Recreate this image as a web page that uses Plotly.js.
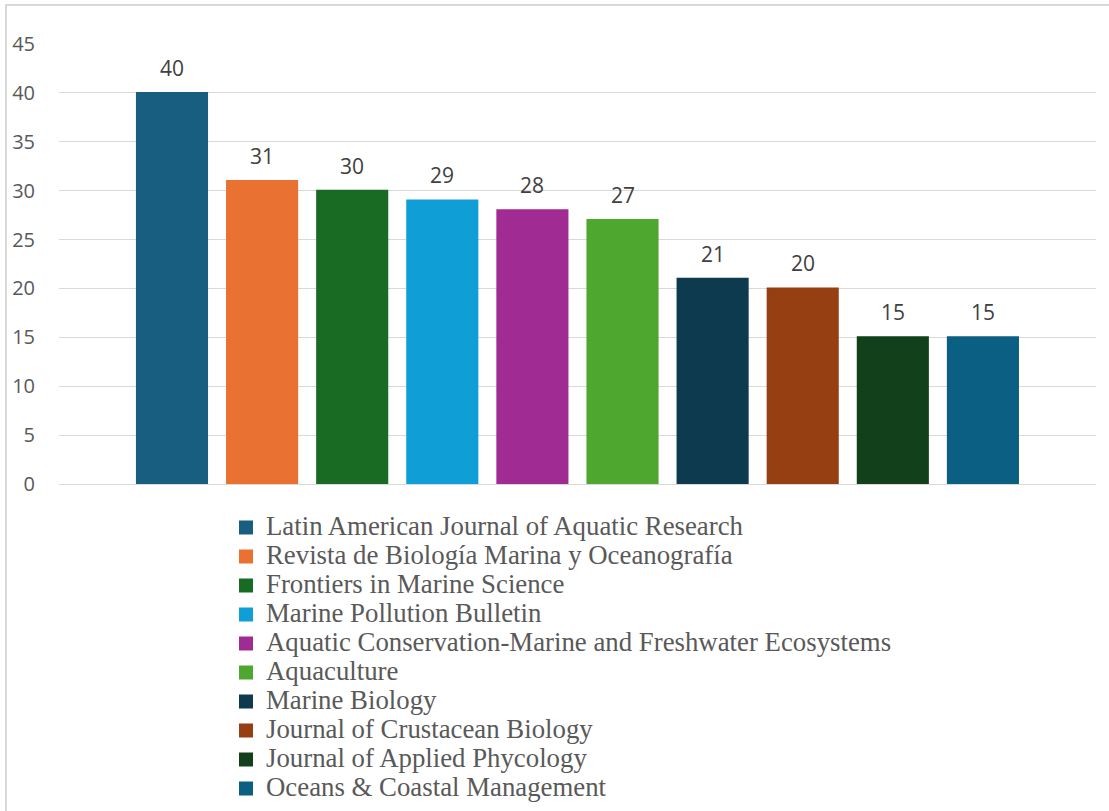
<!DOCTYPE html>
<html>
<head>
<meta charset="utf-8">
<script src="https://cdn.plot.ly/plotly-3.0.1.min.js"></script>
<style>
html,body{margin:0;padding:0;background:#fff;}
#wrap{position:relative;width:1109px;height:811px;overflow:hidden;}
#chart{width:1109px;height:811px;}
#frame{position:absolute;left:5px;top:4px;width:1110px;height:820px;border-left:2px solid #D9D9D9;border-top:2px solid #D9D9D9;pointer-events:none;box-sizing:border-box;}
</style>
</head>
<body>
<div id="wrap"><div id="chart"></div><div id="frame"></div></div>
<script>
const journals = [
  "Latin American Journal of Aquatic Research",
  "Revista de Biología Marina y Oceanografía",
  "Frontiers in Marine Science",
  "Marine Pollution Bulletin",
  "Aquatic Conservation-Marine and Freshwater Ecosystems",
  "Aquaculture",
  "Marine Biology",
  "Journal of Crustacean Biology",
  "Journal of Applied Phycology",
  "Oceans & Coastal Management"
];
const counts = [40, 31, 30, 29, 28, 27, 21, 20, 15, 15];
const colors = ["#175E80", "#E97132", "#196B24", "#0F9ED5", "#A02B93", "#4EA72E", "#0E3A4F", "#963F12", "#11401A", "#0B5F82"];
const yTicks = [0, 5, 10, 15, 20, 25, 30, 35, 40, 45];

const traces = journals.map((name, i) => ({
  type: 'bar',
  x: [name],
  y: [counts[i]],
  name: '<span style="font-size:26.8px">' + name.replace(/&/g, '&amp;') + '</span>',
  width: 0.778,
  marker: {color: colors[i], line: {width: 2, color: colors[i]}},
  hoverinfo: 'y'
}));

const annotations = journals.map((name, i) => ({
  x: name, y: counts[i], xref: 'x', yref: 'y',
  text: String(counts[i]), showarrow: false,
  yshift: 25,
  font: {family: 'Open Sans, Lato, sans-serif', size: 21, color: '#404040'}
}));

const layout = {
  width: 1109, height: 811,
  margin: {l: 59, r: 13, t: 44, b: 327, autoexpand: false},
  paper_bgcolor: '#fff', plot_bgcolor: '#fff',
  barmode: 'overlay',
  showlegend: true,
  xaxis: {
    type: 'category',
    categoryorder: 'array', categoryarray: journals,
    range: [-1.254, 10.255],
    showticklabels: false, showgrid: false, zeroline: false, showline: false, ticks: ''
  },
  yaxis: {
    range: [0, 45], tickvals: yTicks, ticktext: yTicks.map(String),
    showgrid: true, gridcolor: '#D9D9D9', gridwidth: 1,
    zeroline: true, zerolinecolor: '#D9D9D9', zerolinewidth: 1,
    showline: false, ticks: '', ticklabelstandoff: 23,
    tickfont: {family: 'Open Sans, Lato, sans-serif', size: 20, color: '#595959'}
  },
  legend: {
    orientation: 'v',
    xref: 'container', x: 226 / 1109, xanchor: 'left',
    yref: 'container', y: 1 - 508 / 811, yanchor: 'top',
    font: {family: 'Liberation Serif, Times New Roman, serif', size: 20, color: '#595959'},
    itemwidth: 30, tracegroupgap: 0, bgcolor: 'rgba(0,0,0,0)'
  },
  annotations: annotations
};

Plotly.newPlot('chart', traces, layout, {displayModeBar: false, staticPlot: true});
</script>
</body>
</html>
